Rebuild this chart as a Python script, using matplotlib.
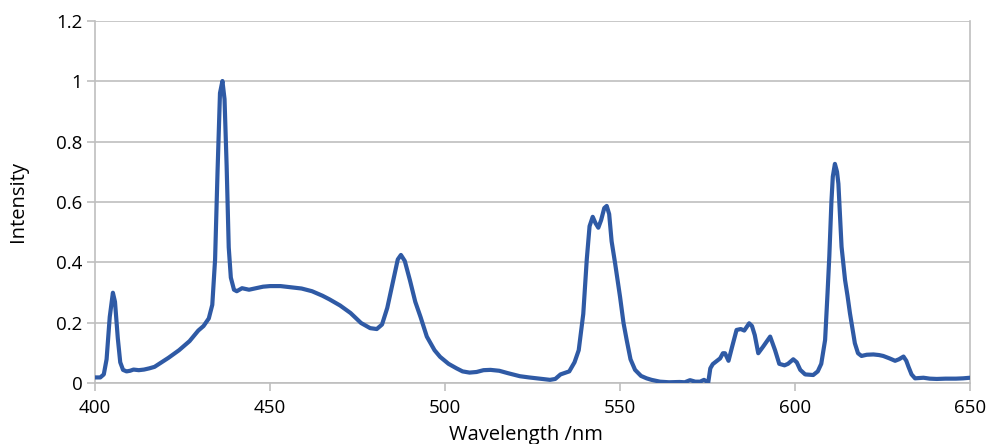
import matplotlib.pyplot as plt

# Spectrum
wavelength = [400, 401.5, 402.5, 403.3, 404.2, 405.1, 405.7, 406.5, 407.2, 408, 409, 410, 411,
              412.5, 414, 415.5, 417, 419, 421, 424, 427, 429.5, 431, 432.5, 433.5, 434.3, 435,
              435.7, 436.4, 437, 437.6, 438.2, 438.8, 439.7, 440.5, 442, 444, 446, 448, 450, 453,
              456, 459, 462, 465, 467, 470, 473, 476, 478.6, 480.5, 482, 483.5, 485, 486.5, 487.4,
              488.5, 490, 491.5, 493, 494.8, 497, 498.6, 501, 503.3, 505, 507, 509, 511, 513,
              515.5, 518, 521.4, 524, 527, 530, 531.5, 533, 535.5, 537, 538.2, 539.5, 540.5,
              541.3, 542.2, 543, 543.8, 544.6, 545.5, 546.2, 546.9, 547.6, 548.6, 550, 551,
              551.9, 553, 554.3, 556, 557.6, 559, 561.4, 564, 567, 568.5, 570, 571.5, 572.9, 574,
              575.2, 575.8, 576.5, 578.6, 579.4, 580, 581, 582, 583.3, 584.5, 585.5, 586.9,
              587.7, 588.5, 589.5, 590.9, 592.9, 594.3, 595.5, 597, 598, 599.5, 600.5, 601.5,
              602.9, 605.2, 606.5, 607.5, 608.6, 609.3, 609.8, 610.4, 610.8, 611.4, 612, 612.4,
              613.3, 614.3, 615, 615.7, 617.1, 618, 619, 620.5, 622.4, 624, 625.2, 627, 628.6,
              629.7, 631, 631.8, 632.4, 633.3, 634.3, 636.7, 638.5, 640.5, 643, 646, 648, 650]
intensity = [0.02, 0.02, 0.03, 0.08, 0.22, 0.30, 0.27, 0.15, 0.07, 0.045, 0.04, 0.042, 0.046,
             0.044, 0.046, 0.05, 0.055, 0.07, 0.085, 0.11, 0.14, 0.175, 0.19, 0.215, 0.26, 0.41,
             0.7, 0.96, 1.0, 0.94, 0.72, 0.45, 0.35, 0.31, 0.305, 0.315, 0.31, 0.315, 0.32,
             0.322, 0.322, 0.318, 0.314, 0.305, 0.29, 0.278, 0.258, 0.233, 0.2, 0.183, 0.18,
             0.195, 0.25, 0.33, 0.41, 0.425, 0.405, 0.34, 0.27, 0.22, 0.155, 0.11, 0.088, 0.065,
             0.05, 0.04, 0.036, 0.038, 0.044, 0.045, 0.042, 0.034, 0.024, 0.02, 0.016, 0.012,
             0.015, 0.03, 0.04, 0.07, 0.11, 0.23, 0.41, 0.52, 0.551, 0.53, 0.515, 0.54, 0.58,
             0.587, 0.56, 0.47, 0.397, 0.287, 0.2, 0.144, 0.08, 0.045, 0.025, 0.017, 0.012,
             0.006, 0.004, 0.005, 0.004, 0.011, 0.006, 0.006, 0.012, 0.003, 0.05, 0.064, 0.083,
             0.1, 0.1, 0.075, 0.12, 0.177, 0.18, 0.175, 0.199, 0.19, 0.16, 0.10, 0.122, 0.155,
             0.11, 0.065, 0.06, 0.065, 0.08, 0.07, 0.045, 0.03, 0.028, 0.04, 0.065, 0.144, 0.3,
             0.42, 0.6, 0.684, 0.726, 0.7, 0.66, 0.452, 0.342, 0.29, 0.232, 0.133, 0.1, 0.091,
             0.095, 0.096, 0.094, 0.091, 0.083, 0.075, 0.08, 0.089, 0.075, 0.056, 0.03, 0.017,
             0.019, 0.016, 0.015, 0.016, 0.016, 0.017, 0.019]

x_ticks = [400, 450, 500, 550, 600, 650]
y_ticks = [0, 0.2, 0.4, 0.6, 0.8, 1.0, 1.2]
y_tick_labels = ['0', '0.2', '0.4', '0.6', '0.8', '1', '1.2']

plt.rcParams['font.family'] = ['Open Sans', 'DejaVu Sans']
grey = '#BFBFBF'

fig = plt.figure(figsize=(9.9, 4.44), dpi=100)
ax = fig.add_axes([0.096, 0.1363, 0.8838, 0.8175])

ax.plot(wavelength, intensity, color='#2F5AA5', linewidth=3.0,
        solid_joinstyle='round', solid_capstyle='round', zorder=3)

ax.set_xlim(400, 650)
ax.set_ylim(0, 1.2)
ax.set_xticks(x_ticks)
ax.set_yticks(y_ticks)
ax.set_yticklabels(y_tick_labels)
ax.yaxis.grid(True, color=grey, linewidth=1.2)
ax.set_axisbelow(True)

for side in ['left', 'bottom', 'right']:
    ax.spines[side].set_color(grey)
    ax.spines[side].set_linewidth(1.2)
ax.spines['top'].set_visible(False)

ax.tick_params(axis='both', colors=grey, width=1.2, length=6, labelsize=13.5,
               labelcolor='black')
ax.tick_params(axis='x', pad=5)
ax.tick_params(axis='y', pad=3)

ax.set_xlabel('Wavelength /nm', fontsize=14.5, labelpad=6, x=0.492)
ax.set_ylabel('Intensity', fontsize=14.5, labelpad=20)

fig.savefig('out.png', dpi=100)
